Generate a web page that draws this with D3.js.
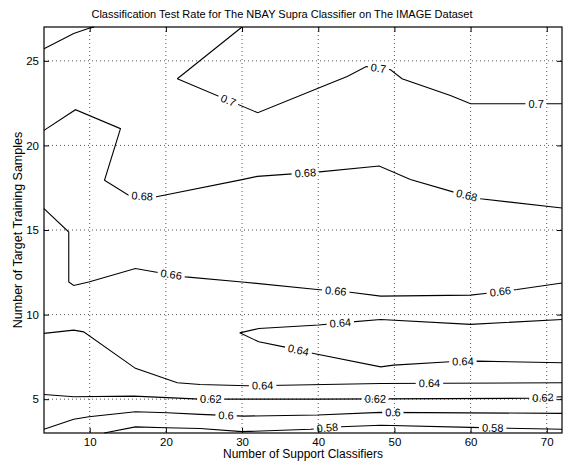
<!DOCTYPE html>
<html>
<head>
<meta charset="utf-8">
<script src="https://cdn.jsdelivr.net/npm/d3@7"></script>
<style>
  body { margin: 0; background: #fff; }
  svg { font-family: "Liberation Sans", Arial, Helvetica, sans-serif; }
</style>
</head>
<body>
<svg width="564" height="462"></svg>
<script>
// contour lines: [supportClassifiers, targetSamples]
var xTicks = [10, 20, 30, 40, 50, 60, 70];
var yTicks = [5, 10, 15, 20, 25];

var c70corner = [[4, 25.72], [7.9, 26.62], [10.1, 26.95], [10.6, 27]];
var c70top = [[30, 27], [21.5, 23.94]];
var c70main = [[21.5, 23.94], [32.06, 21.93], [41.6, 23.68], [43.8, 24.07], [46.3, 24.66],
  [49.5, 24.47], [51.0, 23.94], [57.35, 22.95], [60, 22.46], [72, 22.46]];
var c68 = [[4, 20.89], [8.13, 22.11], [14.04, 20.99], [11.94, 17.94], [15.1, 17.05],
  [18.6, 16.95], [30, 17.98], [32, 18.17], [39.85, 18.42], [48, 18.78], [52.1, 17.98],
  [57.8, 17.24], [61.3, 16.85], [72, 16.3]];
var c66 = [[4, 16.26], [7.25, 14.88], [7.25, 11.93], [7.9, 11.72], [9.88, 11.93],
  [16.0, 12.72], [18.6, 12.52], [22.57, 12.23], [30, 11.93], [39.85, 11.48], [44.2, 11.32],
  [48.2, 11.09], [60, 11.15], [61.9, 11.25], [66.1, 11.48], [72, 11.87]];
var c64upper = [[29.7, 8.92], [32.2, 9.18], [40.06, 9.38], [44.45, 9.57], [48.2, 9.71],
  [60, 9.42], [72, 9.71]];
var c64lower = [[29.7, 8.92], [32.2, 8.39], [35.5, 8.09], [39.4, 7.70], [48.2, 6.91],
  [49.9, 7.01], [57.3, 7.21], [60.8, 7.25], [72, 7.15]];
var c64long = [[4, 8.89], [7.9, 9.08], [9.2, 8.98], [16.0, 6.82], [21.5, 5.97],
  [24.5, 5.87], [30.7, 5.79], [48.2, 5.93], [72, 5.97]];
var c62 = [[4, 5.28], [7.9, 5.14], [15.8, 5.18], [24.5, 5.0], [39.9, 5.0],
  [67.8, 5.05], [72, 5.14]];
var c60 = [[4, 3.22], [7.9, 3.81], [9.9, 3.96], [16.0, 4.26], [20.2, 4.20], [24.5, 4.10],
  [30.2, 4.0], [39.9, 4.06], [48.2, 4.22], [72, 4.16]];
var c58 = [[11.9, 3], [16.0, 3.36], [20.0, 3.31], [24.5, 3.27], [30.0, 3.08], [39.0, 3.22],
  [43.0, 3.37], [48.2, 3.46], [60, 3.33], [72, 3.22]];

var contours = [
  {level: 0.7, pts: c70corner, labels: []},
  {level: 0.7, pts: c70top, labels: []},
  {level: 0.7, pts: c70main, labels: [28.2, 47.9, 68.6]},
  {level: 0.68, pts: c68, labels: [16.9, 38.3, 59.5]},
  {level: 0.66, pts: c66, labels: [20.7, 42.3, 63.9]},
  {level: 0.64, pts: c64upper, labels: [42.9]},
  {level: 0.64, pts: c64lower, labels: [37.4, 59.0]},
  {level: 0.64, pts: c64long, labels: [32.7, 54.6]},
  {level: 0.62, pts: c62, labels: [25.9, 47.5, 69.5]},
  {level: 0.6, pts: c60, labels: [27.9, 49.8]},
  {level: 0.58, pts: c58, labels: [41.2, 62.9]}
];

var svg = d3.select("svg"),
    margin = {top: 27, right: 2, bottom: 29, left: 44},
    width = +svg.attr("width") - margin.left - margin.right,
    height = +svg.attr("height") - margin.top - margin.bottom;

var x = d3.scaleLinear().domain([4, 72]).range([0, width]);
var y = d3.scaleLinear().domain([3, 27]).range([height, 0]);

var g = svg.append("g").attr("transform", "translate(" + margin.left + "," + margin.top + ")");

// dotted grid
g.selectAll(".gx").data(xTicks).enter().append("line")
    .attr("x1", function(d) { return x(d); }).attr("x2", function(d) { return x(d); })
    .attr("y1", 0).attr("y2", height)
    .attr("stroke", "#555").attr("stroke-width", 1).attr("stroke-dasharray", "1,3");
g.selectAll(".gy").data(yTicks).enter().append("line")
    .attr("y1", function(d) { return y(d); }).attr("y2", function(d) { return y(d); })
    .attr("x1", 0).attr("x2", width)
    .attr("stroke", "#555").attr("stroke-width", 1).attr("stroke-dasharray", "1,3");

// find label spots on each line
var fmt = function(v) { return String(+v.toFixed(2)); };
var labelSpots = [];
contours.forEach(function(c) {
  c.labels.forEach(function(lx) {
    var p = c.pts;
    for (var i = 0; i < p.length - 1; i++) {
      var a = p[i], b = p[i + 1];
      if ((lx - a[0]) * (lx - b[0]) <= 0 && a[0] !== b[0]) {
        var t = (lx - a[0]) / (b[0] - a[0]);
        var ly = a[1] + t * (b[1] - a[1]);
        var ang = Math.atan2(y(b[1]) - y(a[1]), x(b[0]) - x(a[0])) * 180 / Math.PI;
        if (ang > 90) ang -= 180;
        if (ang < -90) ang += 180;
        labelSpots.push({text: fmt(c.level), px: x(lx), py: y(ly), angle: ang});
        break;
      }
    }
  });
});

// mask so the lines break where labels sit
var defs = svg.append("defs");
var mask = defs.append("mask").attr("id", "labelGap").attr("maskUnits", "userSpaceOnUse")
    .attr("x", -margin.left).attr("y", -margin.top).attr("width", 564).attr("height", 462);
mask.append("rect").attr("x", -margin.left).attr("y", -margin.top)
    .attr("width", 564).attr("height", 462).attr("fill", "white");

var texts = g.append("g");
labelSpots.forEach(function(s) {
  var t = texts.append("text")
      .attr("transform", "translate(" + s.px + "," + s.py + ") rotate(" + s.angle + ")")
      .attr("text-anchor", "middle").attr("dy", "0.35em")
      .style("font-size", "11px").attr("fill", "#000")
      .text(s.text);
  var w = t.node().getComputedTextLength() + 6;
  mask.append("rect")
      .attr("transform", "translate(" + s.px + "," + s.py + ") rotate(" + s.angle + ")")
      .attr("x", -w / 2).attr("y", -5).attr("width", w).attr("height", 10)
      .attr("fill", "black");
});

var line = d3.line().x(function(d) { return x(d[0]); }).y(function(d) { return y(d[1]); });

g.insert("g", function() { return texts.node(); })
    .attr("mask", "url(#labelGap)")
    .selectAll("path").data(contours).enter().append("path")
    .attr("d", function(d) { return line(d.pts); })
    .attr("fill", "none").attr("stroke", "#000").attr("stroke-width", 1.1);

// box
g.append("rect").attr("width", width).attr("height", height)
    .attr("fill", "none").attr("stroke", "#000").attr("stroke-width", 1.2);

// axes with inward ticks on all sides
var xAxis = d3.axisBottom(x).tickValues(xTicks).tickSizeInner(-5).tickSizeOuter(0).tickPadding(5);
var yAxis = d3.axisLeft(y).tickValues(yTicks).tickSizeInner(-5).tickSizeOuter(0).tickPadding(5);
g.append("g").attr("transform", "translate(0," + height + ")").call(xAxis);
g.append("g").call(yAxis);
g.append("g").call(d3.axisTop(x).tickValues(xTicks).tickSizeInner(-5).tickSizeOuter(0).tickFormat(""));
g.append("g").attr("transform", "translate(" + width + ",0)")
    .call(d3.axisRight(y).tickValues(yTicks).tickSizeInner(-5).tickSizeOuter(0).tickFormat(""));
g.selectAll(".domain").remove();
g.selectAll(".tick text").style("font-size", "11.5px").attr("fill", "#000")
    .style("font-family", "'Liberation Sans', Arial, sans-serif");

svg.append("text").attr("x", 282).attr("y", 18)
    .attr("text-anchor", "middle").style("font-size", "11px")
    .text("Classification Test Rate for The NBAY Supra Classifier on The IMAGE Dataset");
svg.append("text").attr("x", margin.left + width / 2).attr("y", 458)
    .attr("text-anchor", "middle").style("font-size", "12px")
    .text("Number of Support Classifiers");
svg.append("text")
    .attr("transform", "translate(22," + (margin.top + height / 2) + ") rotate(-90)")
    .attr("text-anchor", "middle").style("font-size", "12.5px")
    .text("Number of Target Training Samples");
</script>
</body>
</html>
